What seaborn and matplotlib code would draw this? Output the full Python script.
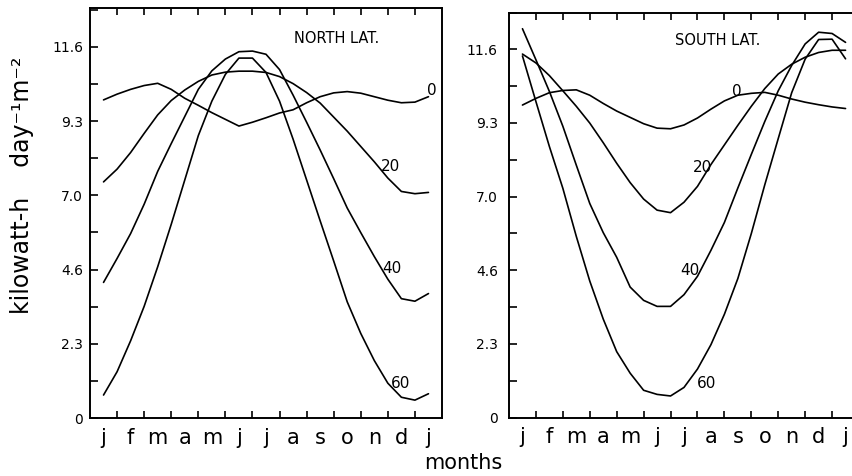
import numpy as np
import pandas as pd
import seaborn as sns
import matplotlib.pyplot as plt

sns.set_theme(style="ticks")
plt.rcParams['font.family'] = ['DejaVu Sans']
plt.rcParams['text.color'] = 'black'
plt.rcParams['xtick.labelcolor'] = 'black'
plt.rcParams['ytick.labelcolor'] = 'black'

# months counted from the left frame edge, read every half month
month_pos = [0.5, 1.0, 1.5, 2.0, 2.5, 3.0, 3.5, 4.0, 4.5, 5.0, 5.5, 6.0, 6.5,
             7.0, 7.5, 8.0, 8.5, 9.0, 9.5, 10.0, 10.5, 11.0, 11.5, 12.0, 12.5]
month_labels = ['j', 'f', 'm', 'a', 'm', 'j', 'j', 'a', 's', 'o', 'n', 'd', 'j']
lats = [0, 20, 40, 60]

ytick_vals = [0, 2.326, 4.652, 6.978, 9.304, 11.63]
ytick_labels = ['0', '2.3', '4.6', '7.0', '9.3', '11.6']

# kilowatt-h day^-1 m^-2
north_0 = [9.97, 10.15, 10.30, 10.42, 10.49, 10.30, 10.02, 9.80, 9.57, 9.36, 9.15, 9.27, 9.41,
           9.56, 9.66, 9.88, 10.07, 10.19, 10.23, 10.18, 10.07, 9.96, 9.88, 9.90, 10.07]
north_20 = [7.40, 7.80, 8.32, 8.92, 9.50, 9.95, 10.28, 10.55, 10.75, 10.84, 10.87, 10.87, 10.83,
            10.70, 10.48, 10.20, 9.87, 9.43, 8.99, 8.51, 8.03, 7.52, 7.10, 7.03, 7.07]
north_40 = [4.25, 5.00, 5.78, 6.70, 7.73, 8.60, 9.45, 10.30, 10.88, 11.25, 11.48, 11.50, 11.40,
            10.92, 10.12, 9.27, 8.40, 7.50, 6.58, 5.81, 5.06, 4.35, 3.74, 3.66, 3.90]
north_60 = [0.72, 1.45, 2.42, 3.50, 4.74, 6.07, 7.46, 8.85, 9.93, 10.77, 11.28, 11.28, 10.83,
            9.93, 8.74, 7.46, 6.18, 4.92, 3.64, 2.65, 1.80, 1.09, 0.65, 0.56, 0.76]

south_0 = [9.87, 10.08, 10.26, 10.33, 10.35, 10.18, 9.92, 9.68, 9.48, 9.28, 9.14, 9.12, 9.24,
           9.46, 9.74, 10.00, 10.18, 10.24, 10.27, 10.18, 10.06, 9.96, 9.88, 9.81, 9.76]
south_20 = [11.48, 11.20, 10.80, 10.32, 9.83, 9.30, 8.68, 8.03, 7.42, 6.90, 6.55, 6.47, 6.80,
            7.30, 7.99, 8.61, 9.23, 9.83, 10.39, 10.85, 11.16, 11.38, 11.53, 11.60, 11.60]
south_40 = [12.28, 11.30, 10.30, 9.20, 7.97, 6.76, 5.84, 5.06, 4.12, 3.70, 3.51, 3.51, 3.88,
            4.46, 5.28, 6.16, 7.25, 8.31, 9.35, 10.32, 11.12, 11.80, 12.17, 12.13, 11.85]
south_60 = [11.42, 9.98, 8.56, 7.24, 5.72, 4.31, 3.11, 2.08, 1.40, 0.86, 0.73, 0.68, 0.95,
            1.53, 2.30, 3.26, 4.39, 5.81, 7.35, 8.81, 10.26, 11.32, 11.94, 11.95, 11.33]


def frame(curves):
    parts = [pd.DataFrame({'month': month_pos, 'kwh': vals, 'lat': lat})
             for lat, vals in zip(lats, curves)]
    return pd.concat(parts, ignore_index=True)


north = frame([north_0, north_20, north_40, north_60])
south = frame([south_0, south_20, south_40, south_60])

fig = plt.figure(figsize=(8.52, 4.76), dpi=100)
ax_n = fig.add_axes([90 / 852, 58 / 476, 352 / 852, 410 / 476])
ax_s = fig.add_axes([509 / 852, 58.5 / 476, 350 / 852, 405 / 476])

for ax, df, top, ypad in [(ax_n, north, 12.85, 5), (ax_s, south, 12.74, 8)]:
    sns.lineplot(data=df, x='month', y='kwh', units='lat', estimator=None,
                 color='black', linewidth=1.2, ax=ax)
    ax.set_xlim(0, 13)
    ax.set_ylim(0, top)
    ax.set_xlabel('')
    ax.set_ylabel('')
    ax.set_xticks(np.arange(13) + 0.5)
    ax.set_xticklabels(month_labels, fontsize=15)
    ax.set_xticks(np.arange(1, 13), minor=True)
    ax.tick_params(axis='x', which='major', length=0, pad=7, top=False)
    ax.tick_params(axis='x', which='minor', direction='in', length=5, width=1.2,
                   top=True, bottom=True, color='black')
    ax.set_yticks(ytick_vals)
    ax.set_yticklabels(ytick_labels, fontsize=10)
    ax.set_yticks(np.array(ytick_vals) + 1.163, minor=True)
    ax.tick_params(axis='y', which='both', direction='in', length=6, width=1.2,
                   left=True, right=False, pad=ypad, color='black')
    for sp in ax.spines.values():
        sp.set_visible(True)
        sp.set_linewidth(1.4)
        sp.set_color('black')

ax_n.text(0.70, 0.925, 'NORTH LAT.', transform=ax_n.transAxes, ha='center', va='center',
          fontsize=10.5)
ax_s.text(0.596, 0.932, 'SOUTH LAT.', transform=ax_s.transAxes, ha='center', va='center',
          fontsize=10.5)

for ax, pos in [(ax_n, [(12.62, 10.25), (11.08, 7.88), (11.16, 4.69), (11.47, 1.09)]),
                (ax_s, [(8.46, 10.3), (7.19, 7.89), (6.73, 4.64), (7.35, 1.08)])]:
    for lat, (mx, my) in zip(lats, pos):
        ax.text(mx, my, str(lat), ha='center', va='center', fontsize=11)

fig.text(22 / 852, 1 - 185 / 476, 'kilowatt-h    day⁻¹m⁻²', rotation=90,
         ha='center', va='center', fontsize=17)
fig.text(463 / 852, 1 - 463 / 476, 'months', ha='center', va='center', fontsize=15)

fig.savefig('out.png', dpi=100)
